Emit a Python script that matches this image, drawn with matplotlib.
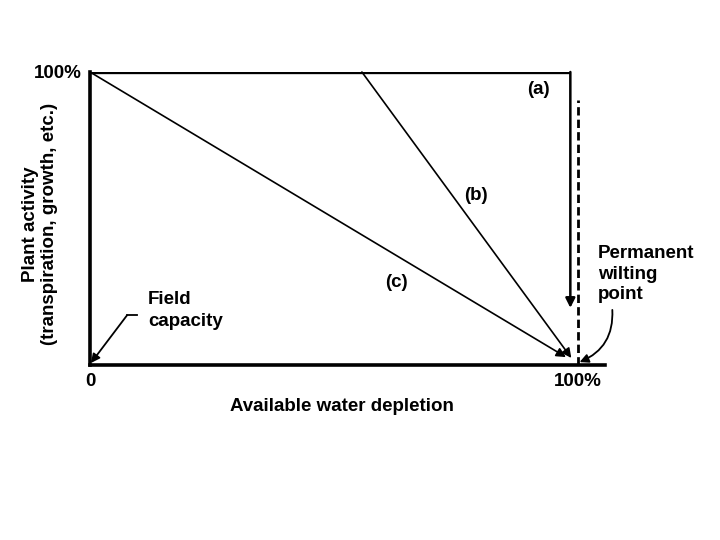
import matplotlib.pyplot as plt

plt.rcParams['font.family'] = ['Liberation Sans', 'DejaVu Sans']
plt.rcParams['font.weight'] = 'bold'

# depletion (% of available water) vs plant activity (%)
curve_a_x = [0, 98.4, 98.4]
curve_a_y = [100, 100, 19.5]
curve_b_x = [55.7, 98.6]
curve_b_y = [100, 2.4]
curve_c_x = [0, 97.5]
curve_c_y = [100, 2.7]
pwp_x = [100, 100]
pwp_y = [0, 90.4]

curve_labels = ['(a)', '(b)', '(c)']
label_pos = [(91.8, 93.9), (79.1, 57.7), (62.7, 28.3)]

x_ticks = [0, 100]
x_ticklabels = ['0', '100%']
y_ticks = [100]
y_ticklabels = ['100%']

FS = 13.5

fig = plt.figure(figsize=(7.2, 5.4), dpi=100)
ax = fig.add_axes([90 / 720, 1 - 365 / 540, 515 / 720, 293 / 540])
ax.set_xlim(0, 105.5)
ax.set_ylim(0, 100)

# curve (a): flat then sudden drop
ax.plot(curve_a_x[:2], curve_a_y[:2], color='black', lw=2.4, solid_capstyle='butt')
ax.annotate('', xy=(curve_a_x[2], curve_a_y[2]), xytext=(curve_a_x[1], curve_a_y[1]),
            arrowprops=dict(arrowstyle='-|>', color='black', lw=1.8,
                            mutation_scale=14, shrinkA=0, shrinkB=0))
# curves (b) and (c)
for xs, ys in [(curve_b_x, curve_b_y), (curve_c_x, curve_c_y)]:
    ax.annotate('', xy=(xs[1], ys[1]), xytext=(xs[0], ys[0]),
                arrowprops=dict(arrowstyle='-|>', color='black', lw=1.2,
                                mutation_scale=14, shrinkA=0, shrinkB=0))

# permanent wilting point
ax.plot(pwp_x, pwp_y, color='black', lw=2, ls=(0, (3, 1.5)))

for lab, (lx, ly) in zip(curve_labels, label_pos):
    ax.text(lx, ly, lab, fontsize=FS, ha='center', va='center')

# field capacity annotation
ax.plot([9.6, 7.6], [17, 17], color='black', lw=1.3)
ax.annotate('', xy=(0.2, 0.7), xytext=(7.6, 17),
            arrowprops=dict(arrowstyle='-|>', color='black', lw=1.3,
                            mutation_scale=13, shrinkA=0, shrinkB=0))
ax.text(11.9, 18.6, 'Field\ncapacity', fontsize=FS, ha='left', va='center',
        linespacing=1.45)

ax.annotate('', xy=(100.3, 1.0), xytext=(107, 18.8),
            arrowprops=dict(arrowstyle='-|>', color='black', lw=1.3,
                            mutation_scale=13, shrinkA=0, shrinkB=0,
                            connectionstyle='arc3,rad=-0.35'),
            annotation_clip=False)
ax.text(104.1, 31, 'Permanent\nwilting\npoint', fontsize=FS, ha='left', va='center',
        linespacing=1.25, clip_on=False)

for s in ['top', 'right']:
    ax.spines[s].set_visible(False)
ax.spines['left'].set_linewidth(2.6)
ax.spines['bottom'].set_linewidth(2.6)

ax.set_xticks(x_ticks)
ax.set_xticklabels(x_ticklabels, fontsize=FS)
ax.set_yticks(y_ticks)
ax.set_yticklabels(y_ticklabels, fontsize=FS)
ax.tick_params(axis='both', length=0)
ax.tick_params(axis='x', pad=6)
ax.tick_params(axis='y', pad=6)

ax.text(0.49, -0.14, 'Available water depletion', transform=ax.transAxes,
        fontsize=FS, ha='center', va='center')
ax.text(-0.097, 0.48, 'Plant activity\n(transpiration, growth, etc.)',
        transform=ax.transAxes, rotation=90, fontsize=FS, ha='center',
        va='center', linespacing=1.2)

fig.savefig('out.png', dpi=100)
